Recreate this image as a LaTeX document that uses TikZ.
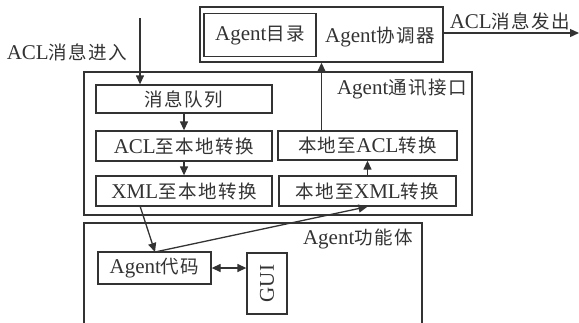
\documentclass[tikz,border=0pt]{standalone}
\usepackage{fontspec}
\setmainfont{Liberation Serif}
\newfontfamily\cjk[LetterSpace=8]{Noto Sans CJK SC}
\usetikzlibrary{arrows.meta,calc}
\newcommand{\zh}[1]{{\cjk\fontsize{18.5}{22}\selectfont #1}}
\definecolor{ln}{HTML}{333333}
\tikzset{
  box/.style={draw=ln,line width=1.3pt,rectangle,inner sep=0pt,font=\fontsize{21}{24}\selectfont,text=ln},
  lbl/.style={inner sep=0pt,font=\fontsize{21}{24}\selectfont,text=ln},
  arr/.style={draw=ln,line width=1.3pt,-{Triangle[length=9pt,width=8pt]}},
  darr/.style={draw=ln,line width=1.3pt,{Triangle[length=9pt,width=8pt]}-{Triangle[length=9pt,width=8pt]}},
}
\begin{document}
\begin{tikzpicture}[x=1pt,y=-1pt]
\useasboundingbox (0,0) rectangle (579,322);
% coordinator
\node[box,minimum width=243pt,minimum height=55pt] (coord) at (321.5,34.5) {};
\node[box,minimum width=112pt,minimum height=43pt] (dir) at (260,35) {Agent\zh{目录}};
\node[lbl] (coordl) at (380,37) {Agent\zh{协调器}};
% interface
\node[box,minimum width=388pt,minimum height=143pt] (iface) at (278,143.5) {};
\node[lbl,anchor=east] (ifacel) at (467,89) {Agent\zh{通讯接口}};
\node[box,minimum width=176pt,minimum height=28pt] (q) at (184,99) {\zh{消息队列}};
\node[box,minimum width=176pt,minimum height=30pt] (a2l) at (184,146) {ACL\zh{至本地转换}};
\node[box,minimum width=176pt,minimum height=30pt] (x2l) at (184,191) {XML\zh{至本地转换}};
\node[box,minimum width=179pt,minimum height=29pt] (l2a) at (367.5,145.5) {\zh{本地至}ACL\zh{转换}};
\node[box,minimum width=177pt,minimum height=30pt] (l2x) at (367.5,191) {\zh{本地至}XML\zh{转换}};
% function body
\draw[ln,line width=1.3pt] (84,330) -- (84,223) -- (422,223) -- (422,330);
\node[lbl,anchor=east] (funcl) at (413,239) {Agent\zh{功能体}};
\node[box,minimum width=113pt,minimum height=32pt] (code) at (154.5,268) {Agent\zh{代码}};
\node[box,minimum width=40pt,minimum height=61pt] (gui) at (267,283.5) {\rotatebox{90}{GUI}};
% external labels
\node[lbl] (inl) at (67,52) {ACL\zh{消息进入}};
\node[lbl] (outl) at (510,21) {ACL\zh{消息发出}};
\coordinate (instart) at (140,18);
\coordinate (outend) at (579,33);
\coordinate (x2lout) at (140,206);
\coordinate (codetop) at (155,252);
% connectors
\draw[arr] (instart) -- (instart |- q.north);
\draw[arr] (coord.east |- outend) -- (outend);
\draw[arr] (l2a.north -| coord.south) -- (coord.south);
\draw[arr] (q.south) -- (a2l.north);
\draw[arr] (a2l.south) -- (x2l.north);
\draw[arr] (l2x.north) -- (l2a.south);
\draw[arr] (x2lout) -- (codetop);
\draw[arr] (codetop) -- (l2x.south);
\draw[darr] (code.east) -- (gui.west |- code.east);
\end{tikzpicture}
\end{document}
